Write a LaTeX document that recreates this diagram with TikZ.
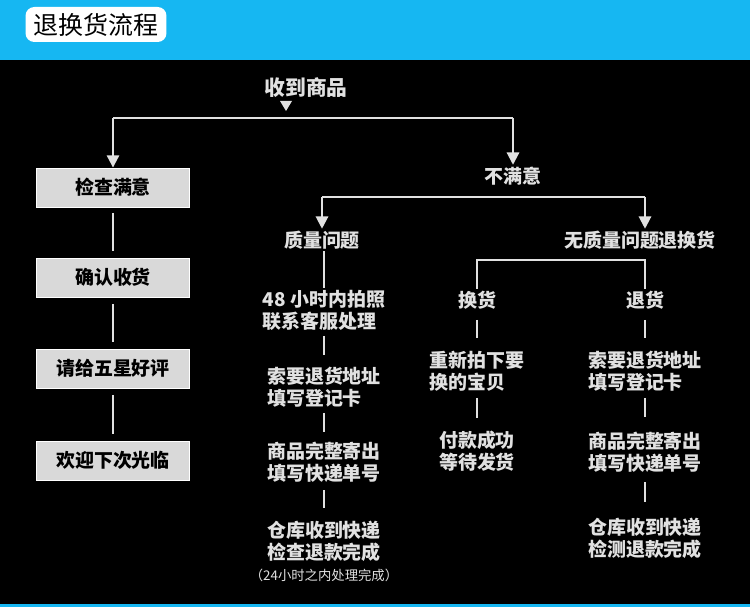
\documentclass[tikz,border=0pt]{standalone}
\usepackage{fontspec}
\setmainfont{Noto Sans CJK SC}
\usetikzlibrary{positioning}
\usetikzlibrary{arrows.meta}
\definecolor{skyblue}{RGB}{22,183,242}
\definecolor{boxgray}{RGB}{217,217,217}
\definecolor{txtgray}{RGB}{225,225,225}
\tikzset{
  stxt/.style={text=txtgray,font=\bfseries\fontsize{10.8}{12.5}\selectfont,align=left,inner sep=1pt},
  gbox/.style={fill=boxgray,draw=white,line width=0.5pt,minimum width=3.06cm,minimum height=0.78cm,
               font=\bfseries\fontsize{10.8}{12}\selectfont,text=black},
  ln/.style={draw=txtgray,line width=1.2pt},
  arr/.style={ln,-{Triangle[width=7pt,length=7pt]}},
}
\begin{document}
\begin{tikzpicture}[x=0.02cm,y=-0.02cm]
                    \useasboundingbox (0,0) rectangle (750,607);
                    % background and title bar
                    \fill[black] (0,0) rectangle (750,607);
                    \fill[skyblue] (0,0) rectangle (750,60);
                    \fill[skyblue] (0,604) rectangle (750,607);
                    \node[fill=white,rounded corners=5pt,minimum width=2.82cm,minimum height=0.7cm,
                          font=\fontsize{14.2}{15}\selectfont] (ntitle) at (96,24.5) {退换货流程};
                    % top
                    \node[stxt,font=\bfseries\fontsize{11.8}{13}\selectfont] (nrecv) at (306,88) {收到商品};
                    \fill[txtgray] (280,101) -- (292,101) -- (286,111) -- cycle;
                    \coordinate (nsplitL) at (113,118);
                    \coordinate (nsplitR) at (513,118);
                    % satisfied column
                    \node[gbox] (nchk) at (113,187.5) {检查满意};
                    \node[gbox] (nconf) at (113,277.5) {确认收货};
                    \node[gbox] (nstar) at (113,368.5) {请给五星好评};
                    \node[gbox] (nwel) at (113,460.5) {欢迎下次光临};
                    \draw[ln] (nsplitL) -- (nsplitR);
                    \draw[arr] (nsplitL) -- (nchk.north);
                    \draw[ln] (113,213) -- (113,251);
                    \draw[ln] (113,304) -- (113,342);
                    \draw[ln] (113,395) -- (113,434);
                    % unsatisfied
                    \node[stxt] (nbad) at (513,176) {不满意};
                    \draw[arr] (nsplitR) -- (nbad.north);
                    \node[stxt] (nqual) at (322,240) {质量问题};
                    \node[stxt] (nnoq) at (640,240) {无质量问题退换货};
                    \coordinate (nbadL) at (322,197);
                    \coordinate (nbadR) at (645,197);
                    \draw[ln] (nbadL) -- (nbadR);
                    \draw[arr] (nbadL) -- (nqual.north);
                    \draw[arr] (nbadR) -- (nnoq.north-|nbadR);
                    % quality problem column
                    \node[stxt] (nq1) at (324,310) {48 小时内拍照\\联系客服处理};
                    \node[stxt] (nq2) at (324,387.5) {索要退货地址\\填写登记卡\phantom{址}};
                    \node[stxt] (nq3) at (324,462.5) {商品完整寄出\\填写快递单号};
                    \node[stxt] (nq4) at (324,541) {仓库收到快递\\检查退款完成};
                    \node[text=txtgray,font=\fontsize{7.6}{8}\selectfont,inner sep=1pt] (nqnote) at (324,575) {（24小时之内处理完成）};
                    \draw[ln] (nq1.north |- nqual.south) -- (nq1.north);
                    \draw[ln] (324,336) -- (324,355);
                    \draw[ln] (324,413) -- (324,432);
                    \draw[ln] (324,490) -- (324,508);
                    % no quality problem
                    \coordinate (nxL) at (477,260);
                    \coordinate (nxR) at (645,260);
                    \node[stxt] (nexch) at (477,300) {换货};
                    \node[stxt] (nret) at (645,300) {退货};
                    \draw[ln] (nxL |- nexch.north) -- (nxL) -- (nxR) -- (nxR |- nret.north);
                    % exchange column
                    \node[stxt] (ne1) at (477,371) {重新拍下要\\换的宝贝\phantom{要}};
                    \node[stxt] (ne2) at (477,451) {付款成功\\等待发货};
                    \draw[ln] (477,320) -- (477,338);
                    \draw[ln] (477,398) -- (477,418);
                    % return column
                    \node[stxt] (nr1) at (645,371) {索要退货地址\\填写登记卡\phantom{址}};
                    \node[stxt] (nr2) at (645,452.5) {商品完整寄出\\填写快递单号};
                    \node[stxt] (nr3) at (645,538.5) {仓库收到快递\\检测退款完成};
                    \draw[ln] (645,320) -- (645,338);
                    \draw[ln] (645,398) -- (645,417);
                    \draw[ln] (645,482) -- (645,502);
                \end{tikzpicture}
\end{document}
